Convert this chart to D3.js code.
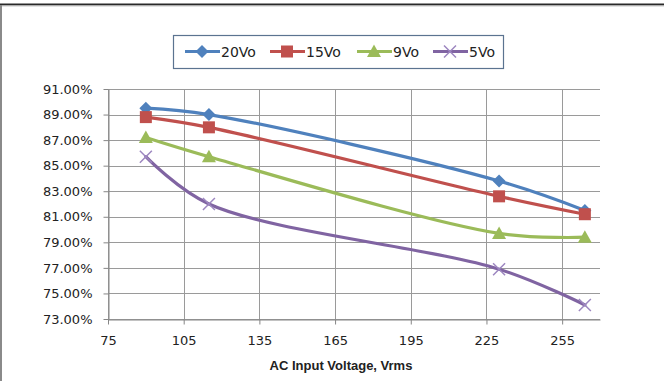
<!DOCTYPE html>
<html>
<head>
<meta charset="utf-8">
<script src="https://cdn.jsdelivr.net/npm/d3@7"></script>
<style>
  body { margin: 0; background: #fff; }
  svg { display: block; }
  .tick text { font-family: "DejaVu Sans", sans-serif; font-size: 13px; fill: #222; }
</style>
</head>
<body>
<div id="chart"></div>
<script>
const WIDTH = 664, HEIGHT = 381;
const MARGIN = { left: 108, right: 64, top: 89, bottom: 62 };

// data
const voltages = [90, 115, 230, 264];
const seriesNames = ['20Vo', '15Vo', '9Vo', '5Vo'];
const eff20 = [89.5, 89.0, 83.8, 81.5];
const eff15 = [88.8, 88.0, 82.6, 81.2];
const eff9  = [87.2, 85.7, 79.7, 79.4];
const eff5  = [85.7, 82.0, 76.9, 74.1];
const xTicks = [75, 105, 135, 165, 195, 225, 255];
const yTicks = [73, 75, 77, 79, 81, 83, 85, 87, 89, 91];

const colors = ['#4F81BD', '#C0504D', '#9BBB59', '#8064A2'];
const shapes = ['diamond', 'square', 'triangle', 'x'];
const allSeries = [eff20, eff15, eff9, eff5];

const svg = d3.select('#chart')
    .append('svg')
    .attr('width', WIDTH)
    .attr('height', HEIGHT);

// frame of the screenshot
svg.append('line').attr('x1', 0).attr('x2', WIDTH).attr('y1', 4.5).attr('y2', 4.5)
    .attr('stroke', '#2a2a2a').attr('stroke-width', 2);
svg.append('line').attr('x1', 0).attr('x2', WIDTH).attr('y1', 6).attr('y2', 6)
    .attr('stroke', '#c8c8c8').attr('stroke-width', 1);
svg.append('line').attr('x1', 1).attr('x2', 1).attr('y1', 5).attr('y2', HEIGHT)
    .attr('stroke', '#8a8a8a').attr('stroke-width', 2);

const x = d3.scaleLinear().domain([75, 270]).range([MARGIN.left, WIDTH - MARGIN.right]);
const y = d3.scaleLinear().domain([73, 91]).range([HEIGHT - MARGIN.bottom, MARGIN.top]);

// gridlines
svg.append('g')
    .selectAll('line.h')
    .data(yTicks)
    .enter().append('line')
    .attr('x1', x(75)).attr('x2', x(270))
    .attr('y1', d => Math.round(y(d)) + 0.5).attr('y2', d => Math.round(y(d)) + 0.5)
    .attr('stroke', '#9a9a9a');

svg.append('g')
    .selectAll('line.v')
    .data(xTicks)
    .enter().append('line')
    .attr('x1', d => Math.round(x(d)) + 0.5).attr('x2', d => Math.round(x(d)) + 0.5)
    .attr('y1', y(91)).attr('y2', y(73))
    .attr('stroke', '#9a9a9a');

// axes
svg.append('g')
    .attr('transform', `translate(0,${Math.round(y(73)) + 0.5})`)
    .call(d3.axisBottom(x).tickValues(xTicks).tickSize(5).tickPadding(11).tickSizeOuter(0));
svg.append('g')
    .attr('transform', `translate(${Math.round(x(75)) + 0.5},0)`)
    .call(d3.axisLeft(y).tickValues(yTicks).tickSize(5).tickPadding(11).tickSizeOuter(0)
        .tickFormat(d => d.toFixed(2) + '%'));
svg.selectAll('.domain').attr('stroke', '#868686');
svg.selectAll('.tick line').attr('stroke', '#868686');

svg.append('text')
    .attr('x', 341)
    .attr('y', 370)
    .attr('text-anchor', 'middle')
    .style('font-family', '"Liberation Sans", Arial, sans-serif')
    .style('font-weight', 'bold')
    .style('font-size', '13px')
    .style('fill', '#222')
    .text('AC Input Voltage, Vrms');

// markers
function marker(g, shape, color, cx, cy) {
    if (shape === 'diamond') {
        g.append('path').attr('d', `M${cx},${cy - 6.5}L${cx + 6.5},${cy}L${cx},${cy + 6.5}L${cx - 6.5},${cy}Z`)
            .attr('fill', color);
    } else if (shape === 'square') {
        g.append('rect').attr('x', cx - 6).attr('y', cy - 6).attr('width', 12).attr('height', 12)
            .attr('fill', color);
    } else if (shape === 'triangle') {
        g.append('path').attr('d', `M${cx},${cy - 7}L${cx + 7},${cy + 5.5}L${cx - 7},${cy + 5.5}Z`)
            .attr('fill', color);
    } else {
        g.append('path').attr('d', `M${cx - 6},${cy - 6}L${cx + 6},${cy + 6}M${cx - 6},${cy + 6}L${cx + 6},${cy - 6}`)
            .attr('stroke', '#9d87c0').attr('stroke-width', 1.5);
    }
}

const line = d3.line()
    .x(d => x(d[0]))
    .y(d => y(d[1]))
    .curve(d3.curveCatmullRom.alpha(0.5));

allSeries.forEach((vals, i) => {
    const pts = voltages.map((v, j) => [v, vals[j]]);
    svg.append('path')
        .datum(pts)
        .attr('d', line)
        .attr('fill', 'none')
        .attr('stroke', colors[i])
        .attr('stroke-width', 3.2)
        .attr('stroke-linecap', 'round');
    const g = svg.append('g');
    pts.forEach(p => marker(g, shapes[i], colors[i], x(p[0]), y(p[1])));
});

// legend
const legend = svg.append('g');
legend.append('rect')
    .attr('x', 173.5).attr('y', 35.5).attr('width', 330).attr('height', 33)
    .attr('fill', '#fff').attr('stroke', '#5b7390').attr('stroke-width', 1.2);
const legendX = [185, 270, 357, 433];
seriesNames.forEach((name, i) => {
    const lx = legendX[i];
    legend.append('line')
        .attr('x1', lx).attr('x2', lx + 35).attr('y1', 51.5).attr('y2', 51.5)
        .attr('stroke', colors[i]).attr('stroke-width', 3);
    marker(legend, shapes[i], colors[i], lx + 17, 51.5);
    legend.append('text')
        .attr('x', lx + 36).attr('y', 56.5)
        .style('font-family', '"DejaVu Sans", sans-serif')
        .style('font-size', '14px')
        .style('fill', '#222')
        .text(name);
});
</script>
</body>
</html>
